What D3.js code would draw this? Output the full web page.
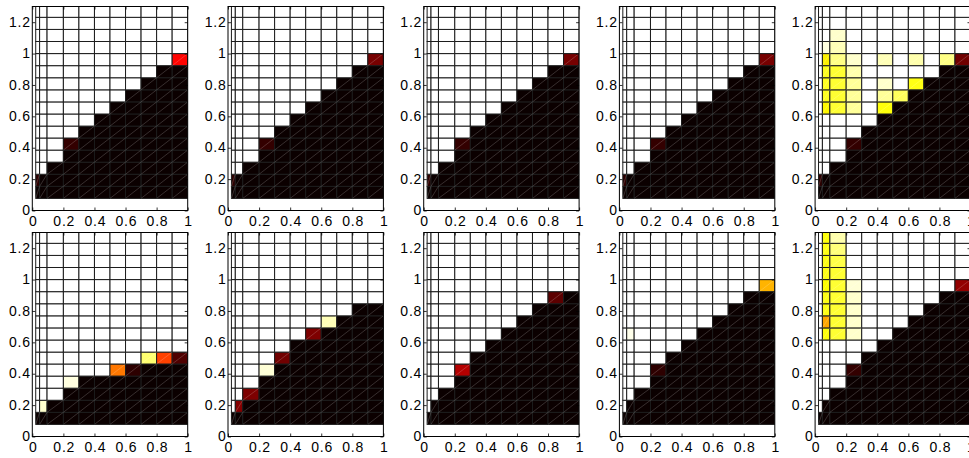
<!DOCTYPE html>
<html><head><meta charset="utf-8">
<script src="https://cdn.jsdelivr.net/npm/d3@7"></script>
<style>
body{margin:0;background:#fff}
svg{display:block}
text{font-family:"Liberation Sans",Arial,Helvetica,sans-serif}
</style>
</head><body>
<svg id="chart" width="969" height="458"></svg>
<script>
// grid edges (data units)
const xEdges = [0.022,0.047,0.095,0.2,0.3,0.4,0.5,0.6,0.7,0.8,0.9,1.0];
const yEdges = [0.077,0.154,0.231,0.308,0.385,0.462,0.538,0.615,0.692,0.769,0.846,0.923,1.0,1.077,1.154,1.231,1.308];
const xTicks = [0,0.2,0.4,0.6,0.8,1];
const xTickLabels = ["0","0.2","0.4","0.6","0.8","1"];
const yTicks = [0,0.2,0.4,0.6,0.8,1,1.2];
const yTickLabels = ["0","0.2","0.4","0.6","0.8","1","1.2"];

// number of filled (dark) rows per column, and individual cell values [col,row,value]
const fill1 = [2,2,3,5,6,7,8,9,10,11,12];
const cells1 = [[0,1,0.05],[3,4,0.06],[10,11,0.38]];
const fill2 = [2,2,3,5,6,7,8,9,10,11,12];
const cells2 = [[0,1,0.05],[3,4,0.06],[10,11,0.16]];
const fill3 = [2,2,3,5,6,7,8,9,10,11,12];
const cells3 = [[0,1,0.05],[3,4,0.06],[10,11,0.16]];
const fill4 = [2,2,3,5,6,7,8,9,10,11,12];
const cells4 = [[0,1,0.05],[3,4,0.06],[10,11,0.16]];
const fill5 = [2,2,3,5,6,7,8,9,10,11,12];
const cells5 = [[0,1,0.05],[3,4,0.06],[10,11,0.15],
  [1,7,0.74],[1,8,0.78],[1,9,0.78],[1,10,0.78],[1,11,0.73],[1,12,0.97],
  [2,7,0.8],[2,8,0.8],[2,9,0.8],[2,10,0.8],[2,11,0.88],[2,12,0.93],[2,13,0.95],
  [3,7,0.9],[3,8,0.9],[3,9,0.9],[3,10,0.92],[3,11,0.95],
  [5,7,0.76],[5,8,0.9],[5,9,0.95],[5,11,0.93],
  [6,8,0.84],
  [7,9,0.77],[7,11,0.92],
  [9,11,0.88]];
const fill6 = [1,2,2,4,4,4,5,5,6,6,6];
const cells6 = [[1,1,0.95],[3,3,0.97],[6,4,0.55],[7,4,0.05],[8,5,0.86],[9,5,0.47],[10,5,0.1]];
const fill7 = [1,2,3,5,6,7,8,9,9,10,10];
const cells7 = [[1,1,0.18],[2,2,0.17],[3,4,0.96],[4,5,0.15],[6,7,0.17],[7,8,0.93]];
const fill8 = [1,2,3,5,6,7,8,9,10,11,11];
const cells8 = [[3,4,0.25],[9,10,0.12]];
const fill9 = [1,2,3,5,6,7,8,9,10,11,12];
const cells9 = [[1,7,0.98],[3,4,0.05],[10,11,0.64]];
const fill10 = [1,2,3,5,6,7,8,9,10,11,12];
const cells10 = [[3,4,0.06],[10,11,0.2],
  [1,7,0.76],[1,8,0.62],[1,9,0.77],[1,10,0.77],[1,11,0.75],[1,12,0.77],[1,13,0.77],[1,14,0.77],[1,15,0.76],
  [2,7,0.8],[2,8,0.8],[2,9,0.8],[2,10,0.8],[2,11,0.8],[2,12,0.8],[2,13,0.82],[2,14,0.87],[2,15,0.92],
  [3,7,0.95],[3,8,0.95],[3,9,0.95],[3,10,0.95],[3,11,0.96]];

const panels = [
  {fill:fill1,cells:cells1},{fill:fill2,cells:cells2},{fill:fill3,cells:cells3},{fill:fill4,cells:cells4},{fill:fill5,cells:cells5},
  {fill:fill6,cells:cells6},{fill:fill7,cells:cells7},{fill:fill8,cells:cells8},{fill:fill9,cells:cells9},{fill:fill10,cells:cells10}
];

function hot(v){
  const cl = t => Math.max(0, Math.min(1, t));
  const r = cl((v + 0.0156) / 0.375);
  const g = cl((v - 0.375) / 0.375);
  const b = cl((v - 0.75) / 0.25);
  return d3.rgb(r*255, g*255, b*255).toString();
}

const svg = d3.select("#chart");
const W = 155.4, H = 204;
const lefts = [32.3, 228, 423.7, 619.4, 815.1];
const tops = [6.5, 232.5];

panels.forEach((p, i) => {
  const col = i % 5, row = Math.floor(i / 5);
  const g = svg.append("g").attr("transform", `translate(${lefts[col]},${tops[row]})`);
  const x = d3.scaleLinear().domain([0,1]).range([0,W]);
  const y = d3.scaleLinear().domain([0,1.3]).range([H,0]);
  const cid = "clip" + i;
  g.append("clipPath").attr("id", cid).append("rect").attr("width", W).attr("height", H);

  const nC = xEdges.length - 1, nR = yEdges.length - 1;
  const vals = [];
  for (let c = 0; c < nC; c++) for (let r = 0; r < nR; r++) {
    vals.push({c, r, v: r < p.fill[c] ? 0 : 1});
  }
  p.cells.forEach(([c, r, v]) => { vals[c*nR + r].v = v; });

  const plot = g.append("g").attr("clip-path", `url(#${cid})`);
  plot.selectAll("rect.cell").data(vals).enter().append("rect")
    .attr("class","cell")
    .attr("x", d => x(xEdges[d.c]))
    .attr("y", d => y(yEdges[d.r+1]))
    .attr("width", d => x(xEdges[d.c+1]) - x(xEdges[d.c]))
    .attr("height", d => y(yEdges[d.r]) - y(yEdges[d.r+1]))
    .attr("fill", d => hot(d.v))
    .attr("stroke", "#1c1c1c")
    .attr("stroke-width", 1);
  plot.selectAll("line.diag").data(vals.filter(d => d.v < 0.97)).enter().append("line")
    .attr("class","diag")
    .attr("x1", d => x(xEdges[d.c])).attr("y1", d => y(yEdges[d.r]))
    .attr("x2", d => x(xEdges[d.c+1])).attr("y2", d => y(yEdges[d.r+1]))
    .attr("stroke", "#ffffff").attr("stroke-opacity", 0.3).attr("stroke-width", 0.6);

  const ax = g.append("g").attr("transform", `translate(0,${H})`)
    .call(d3.axisBottom(x).tickValues(xTicks).tickFormat((d,k) => xTickLabels[k]).tickSizeInner(-3).tickSizeOuter(0).tickPadding(5.5));
  const ay = g.append("g")
    .call(d3.axisLeft(y).tickValues(yTicks).tickFormat((d,k) => yTickLabels[k]).tickSizeInner(-3).tickSizeOuter(0).tickPadding(1.5));
  const axT = g.append("g")
    .call(d3.axisTop(x).tickValues(xTicks).tickFormat("").tickSizeInner(-3).tickSizeOuter(0));
  const ayR = g.append("g").attr("transform", `translate(${W},0)`)
    .call(d3.axisRight(y).tickValues(yTicks).tickFormat("").tickSizeInner(-3).tickSizeOuter(0));
  [ax, ay, axT, ayR].forEach(a => {
    a.select(".domain").remove();
    a.selectAll("line").attr("stroke", "#000").attr("stroke-width", 0.8);
    a.selectAll("text").attr("font-size", 14).attr("fill", "#000")
      .attr("letter-spacing", "0.8px")
      .attr("font-family", '"Liberation Sans",Arial,Helvetica,sans-serif');
  });
  ax.selectAll("text").attr("dx", "0.4px");
  ay.selectAll("text").attr("dy", "0.3em");
  g.append("rect").attr("width", W).attr("height", H)
    .attr("fill", "none").attr("stroke", "#000").attr("stroke-width", 1);
});
</script>
</body></html>
